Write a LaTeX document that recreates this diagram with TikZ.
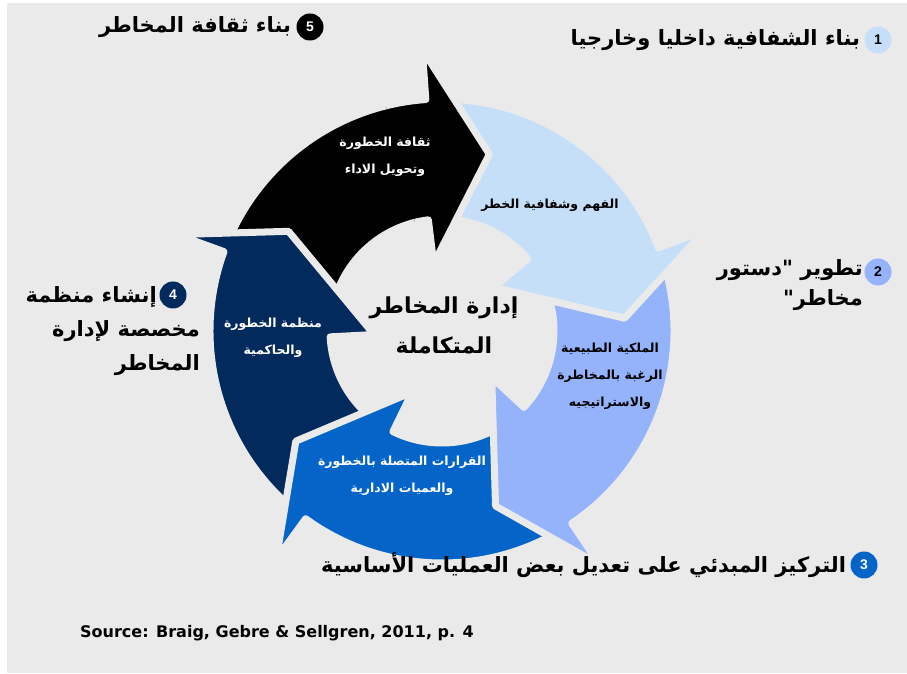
\documentclass[tikz,border=0pt]{standalone}
\usepackage{fontspec}
\usepackage{xcolor}
\usetikzlibrary{positioning}
\TeXXeTstate=1
\newfontfamily\arabicfont[Script=Arabic]{DejaVu Sans}
\newfontfamily\numfont{Liberation Sans}
\newfontfamily\srcfont{DejaVu Sans}
\newcommand{\ar}[1]{\beginR #1\endR}

\definecolor{bggray}{HTML}{EAEAEA}
\definecolor{palecol}{HTML}{C6DFF9}
\definecolor{pericol}{HTML}{94B3FB}
\definecolor{riskblue}{HTML}{0564C8}
\definecolor{navycol}{HTML}{032A5C}

\begin{document}
\begin{tikzpicture}[x=1pt,y=1pt,
      arrowband/.style={
         draw=bggray,
         line width=7pt,
         line join=round},
      numcircle/.style={
         circle,
         inner sep=0pt,
         minimum size=27pt,
         font=\numfont\bfseries\fontsize{14}{14}\selectfont},
      steplabel/.style={
         inner sep=0pt,
         align=right,
         font=\arabicfont\bfseries\fontsize{21}{30}\selectfont},
      arrowtext/.style={
         inner sep=0pt,
         align=center,
         font=\arabicfont\bfseries\fontsize{12.5}{27}\selectfont}
      ]
      \fill[white] (0,0) rectangle (907,674);
      \fill[bggray] (7,1) rectangle (907,671);
      \useasboundingbox (0,0) rectangle (907,674);

    % each arrow: colour/tail/outer barb/inner barb/tip, the next one goes under its head
    \foreach \col/\A/\Bo/\Bi/\T in {black/161/94/97/75,
      navycol/-125/-200/-177/-213,
      riskblue/-55/-126/-116/-143,
      pericol/22/-56/-43/-73,
      palecol/95/21/40/4}
    {
      \begin{scope}[shift={(442,343)}]
        \path[arrowband, fill=\col] (\A:232) arc[start angle=\A, end angle=\Bo, radius=232pt]
          -- (\Bo:282) -- (\T:183) -- (\Bi:68) -- (\Bi:112)
          arc[start angle=\Bi, end angle=\A, radius=112pt] -- cycle;
      \end{scope}
    }
    % head of the black arrow once more, over the tail of the pale one
    \begin{scope}[shift={(442,343)}]
      \clip (0,0) -- (66:330) -- (85:330) -- (104:330) -- cycle;
      \path[arrowband, fill=black] (161:232) arc[start angle=161, end angle=94, radius=232pt]
        -- (94:282) -- (75:183) -- (97:68) -- (97:112)
        arc[start angle=97, end angle=161, radius=112pt] -- cycle;
    \end{scope}

      \node[arrowtext, text=white] (culture) at (385,517) {\ar{ثقافة الخطورة}\\\ar{وتحويل الاداء}};
      \node[arrowtext] (insight) at (550,469) {\ar{الفهم وشفافية الخطر}};
      \node[arrowtext] (appetite) at (610,298) {\ar{الملكية الطبيعية}\\\ar{الرغبة بالمخاطرة}\\\ar{والاستراتيجيه}};
      \node[arrowtext, text=white] (decisions) at (402,198) {\ar{القرارات المتصلة بالخطورة}\\\ar{والعميات الادارية}};
      \node[arrowtext, text=white] (governance) at (273,336) {\ar{منظمة الخطورة}\\\ar{والحاكمية}};
      \node[steplabel, align=center, font=\arabicfont\bfseries\fontsize{22}{40}\selectfont] (core) at (444,349) {\ar{إدارة المخاطر}\\\ar{المتكاملة}};

      \node[numcircle, fill=palecol] (n1) at (878,634) {1};
      \node[numcircle, fill=pericol] (n2) at (878,402) {2};
      \node[numcircle, fill=riskblue, text=white] (n3) at (864,109) {3};
      \node[numcircle, fill=navycol, text=white] (n4) at (173,379) {4};
      \node[numcircle, fill=black, text=white] (n5) at (310,647) {5};

      \node[steplabel, left=4pt of n1] (l1) {\ar{بناء الشفافية داخليا وخارجيا}};
      \node[steplabel, anchor=north east] (l2) at (863,415) {\ar{تطوير "دستور}\\\ar{مخاطر"}};
      \node[steplabel, left=4pt of n3] (l3) {\ar{التركيز المبدئي على تعديل بعض العمليات الأساسية}};
      \node[steplabel, anchor=north east, font=\arabicfont\bfseries\fontsize{21}{34}\selectfont] (l4) at (200,388) {\ar{إنشاء منظمة}\hspace*{43pt}\\\ar{مخصصة لإدارة}\\\ar{المخاطر}};
      \node[steplabel, left=5pt of n5] (l5) {\ar{بناء ثقافة المخاطر}};

      \node[anchor=west, inner sep=0pt, font=\srcfont\bfseries\fontsize{16}{16}\selectfont] (source) at (80,41) {Source: Braig, Gebre \& Sellgren, 2011, p. 4};
\end{tikzpicture}
\end{document}
